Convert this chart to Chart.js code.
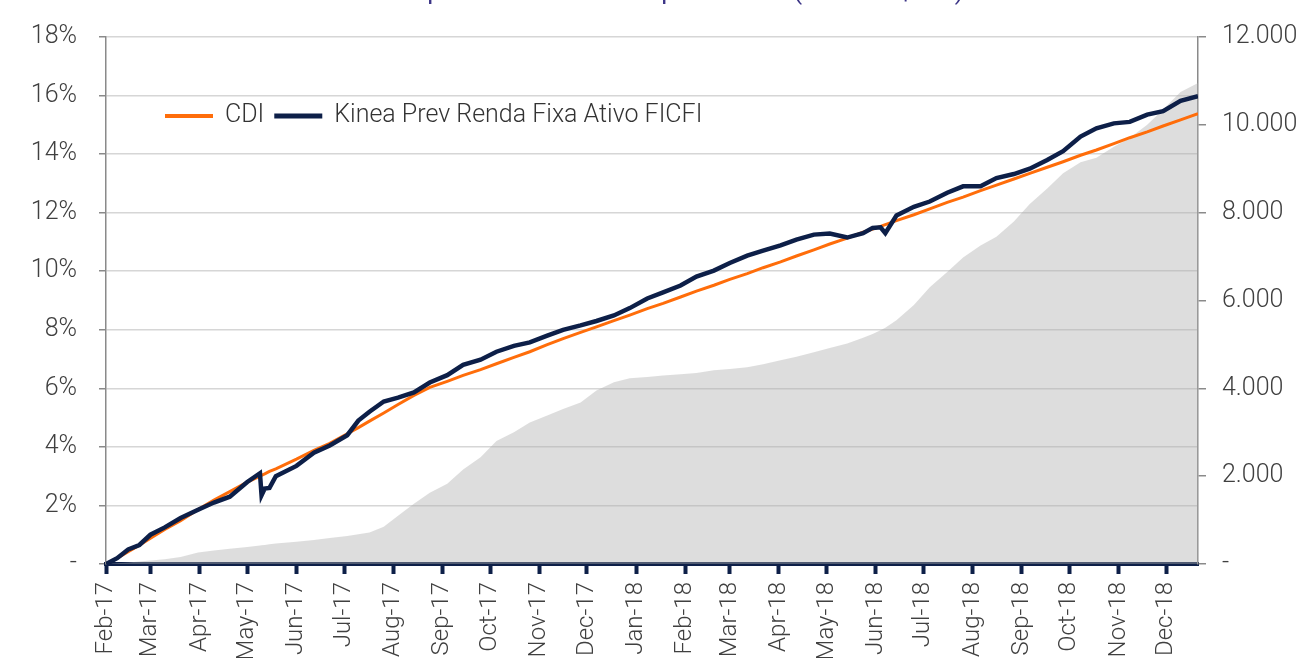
<!DOCTYPE html>
<html lang="pt-BR">
<head>
<meta charset="UTF-8">
<title>Kinea Prev Renda Fixa Ativo FICFI x CDI</title>
<script src="https://cdn.jsdelivr.net/npm/chart.js"></script>
<style>
    html, body { margin: 0; padding: 0; background: #fff; overflow: hidden; }
    canvas { display: block; }
</style>
</head>
<body>
<canvas id="grafico" width="1300" height="658"></canvas>
<script>
// datas das observações
const datas = [
    '2017-02-01','2017-02-08','2017-02-15','2017-02-22','2017-03-01','2017-03-10','2017-03-20','2017-03-31',
    '2017-04-10','2017-04-20','2017-05-01','2017-05-09','2017-05-10','2017-05-12','2017-05-15','2017-05-19',
    '2017-06-01','2017-06-12','2017-06-22','2017-07-03','2017-07-10','2017-07-17','2017-07-26','2017-08-04',
    '2017-08-14','2017-08-24','2017-09-04','2017-09-14','2017-09-25','2017-10-05','2017-10-16','2017-10-26',
    '2017-11-06','2017-11-16','2017-11-27','2017-12-07','2017-12-18','2017-12-28','2018-01-08','2018-01-18',
    '2018-01-29','2018-02-08','2018-02-19','2018-03-01','2018-03-12','2018-03-22','2018-04-02','2018-04-12',
    '2018-04-23','2018-05-03','2018-05-14','2018-05-24','2018-05-30','2018-06-04','2018-06-07','2018-06-14',
    '2018-06-25','2018-07-05','2018-07-16','2018-07-26','2018-08-06','2018-08-16','2018-08-27','2018-09-06',
    '2018-09-17','2018-09-27','2018-10-08','2018-10-18','2018-10-29','2018-11-08','2018-11-19','2018-11-29',
    '2018-12-10','2018-12-21'
];

// rentabilidade acumulada (%)
const cdi = [
    0, 0.2, 0.42, 0.64, 0.88, 1.18, 1.48, 1.86,
    2.18, 2.47, 2.8, 3.0, 3.03, 3.08, 3.16, 3.25,
    3.58, 3.88, 4.12, 4.45, 4.66, 4.88, 5.16, 5.45,
    5.76, 6.03, 6.24, 6.44, 6.64, 6.84, 7.06, 7.25,
    7.49, 7.7, 7.91, 8.1, 8.31, 8.5, 8.72, 8.9,
    9.12, 9.32, 9.52, 9.72, 9.92, 10.12, 10.32, 10.52,
    10.73, 10.93, 11.13, 11.33, 11.44, 11.53, 11.59, 11.73,
    11.93, 12.13, 12.35, 12.53, 12.75, 12.94, 13.15, 13.34,
    13.55, 13.74, 13.96, 14.14, 14.36, 14.56, 14.76, 14.96,
    15.17, 15.38
];

const kinea = [
    0, 0.2, 0.5, 0.65, 1.0, 1.25, 1.57, 1.85,
    2.1, 2.3, 2.8, 3.1, 2.35, 2.58, 2.6, 3.0,
    3.35, 3.8, 4.05, 4.4, 4.9, 5.2, 5.55, 5.68,
    5.86, 6.2, 6.45, 6.8, 6.98, 7.25, 7.45, 7.57,
    7.8, 8.0, 8.15, 8.3, 8.49, 8.74, 9.07, 9.28,
    9.51, 9.82, 10.02, 10.28, 10.53, 10.7, 10.88, 11.08,
    11.25, 11.29, 11.15, 11.3, 11.48, 11.5, 11.3, 11.9,
    12.2, 12.38, 12.68, 12.9, 12.9, 13.18, 13.32, 13.5,
    13.8, 14.1, 14.6, 14.88, 15.05, 15.1, 15.35, 15.47,
    15.82, 15.98
];

// patrimônio (eixo direito)
const patrimonio = [
    0, 15, 35, 55, 80, 110, 160, 260,
    310, 345, 385, 420, 425, 435, 450, 465,
    505, 545, 590, 640, 675, 720, 850, 1100,
    1370, 1620, 1830, 2150, 2430, 2800, 3000, 3220,
    3380, 3530, 3680, 3950, 4140, 4230, 4260, 4290,
    4320, 4350, 4410, 4440, 4480, 4550, 4640, 4720,
    4820, 4920, 5020, 5150, 5240, 5320, 5380, 5550,
    5900, 6300, 6650, 6980, 7250, 7450, 7800, 8200,
    8550, 8900, 9150, 9250, 9500, 9700, 10000, 10350,
    10750, 10950
];

const mesesDatas = [
    '2017-02-01','2017-03-01','2017-04-01','2017-05-01','2017-06-01','2017-07-01','2017-08-01','2017-09-01',
    '2017-10-01','2017-11-01','2017-12-01','2018-01-01','2018-02-01','2018-03-01','2018-04-01','2018-05-01',
    '2018-06-01','2018-07-01','2018-08-01','2018-09-01','2018-10-01','2018-11-01','2018-12-01'
];
const mesesLabels = [
    'Feb-17','Mar-17','Apr-17','May-17','Jun-17','Jul-17','Aug-17','Sep-17','Oct-17','Nov-17','Dec-17',
    'Jan-18','Feb-18','Mar-18','Apr-18','May-18','Jun-18','Jul-18','Aug-18','Sep-18','Oct-18','Nov-18','Dec-18'
];

const base = Date.UTC(2017, 1, 1);
function dia(s) {
    const p = s.split('-').map(Number);
    return (Date.UTC(p[0], p[1] - 1, p[2]) - base) / 864e5;
}
function pontos(valores) {
    return datas.map((d, i) => ({ x: dia(d), y: valores[i] }));
}
function milhar(v) {
    return String(v).replace(/\B(?=(\d{3})+(?!\d))/g, '.');
}

const fonte = "Roboto, 'Liberation Sans', sans-serif";
const corTexto = '#404040';
const laranja = '#ff6d0a';
const azul = '#0d1f48';

const legenda = {
    id: 'legenda',
    afterDraw(chart) {
        const ctx = chart.ctx;
        const itens = [['CDI', laranja, 4], ['Kinea Prev Renda Fixa Ativo FICFI', azul, 5]];
        let x = 165;
        const y = 116;
        ctx.save();
        ctx.font = '300 25px ' + fonte;
        ctx.textBaseline = 'middle';
        itens.forEach(it => {
            ctx.fillStyle = it[1];
            ctx.fillRect(x, y - it[2] / 2, 48, it[2]);
            x += 60;
            ctx.fillStyle = '#333';
            ctx.fillText(it[0], x, y);
            x += ctx.measureText(it[0]).width + 10;
        });
        ctx.restore();
    }
};

// título cortado no topo da imagem, só os descendentes aparecem
const titulo = {
    id: 'titulo',
    afterDraw(chart) {
        const ctx = chart.ctx;
        ctx.save();
        ctx.font = '26px ' + fonte;
        ctx.fillStyle = '#3b3486';
        ctx.textAlign = 'center';
        ctx.textBaseline = 'alphabetic';
        ctx.fillText('Desempenho acumulado e patrimônio (PL em R$ mil)', 655, -1);
        ctx.restore();
    }
};

new Chart(document.getElementById('grafico'), {
    type: 'line',
    data: {
        datasets: [
            {
                label: 'Kinea Prev Renda Fixa Ativo FICFI',
                data: pontos(kinea),
                yAxisID: 'y',
                borderColor: azul,
                borderWidth: 4.5,
                pointRadius: 0,
                fill: false,
                order: 1
            },
            {
                label: 'CDI',
                data: pontos(cdi),
                yAxisID: 'y',
                borderColor: laranja,
                borderWidth: 3,
                pointRadius: 0,
                fill: false,
                order: 2
            },
            {
                label: 'Patrimônio',
                data: pontos(patrimonio),
                yAxisID: 'y1',
                borderWidth: 0,
                borderColor: 'rgba(0,0,0,0)',
                backgroundColor: 'rgba(175,175,175,0.42)',
                pointRadius: 0,
                fill: 'origin',
                order: 3
            }
        ]
    },
    options: {
        responsive: false,
        animation: false,
        layout: { padding: { top: 24 } },
        plugins: {
            legend: { display: false },
            tooltip: { enabled: false }
        },
        scales: {
            x: {
                type: 'linear',
                min: 0,
                max: dia(datas[datas.length - 1]),
                afterBuildTicks(scale) {
                    scale.ticks = mesesDatas.map(d => ({ value: dia(d) }));
                },
                afterFit(scale) { scale.height = 94; },
                ticks: {
                    autoSkip: false,
                    minRotation: 90,
                    maxRotation: 90,
                    padding: 8,
                    color: corTexto,
                    font: { family: fonte, size: 24, weight: '300' },
                    callback: function (v) {
                        const i = mesesDatas.findIndex(d => dia(d) === v);
                        return i >= 0 ? mesesLabels[i] : '';
                    }
                },
                grid: {
                    drawOnChartArea: false,
                    drawTicks: true,
                    tickLength: 10,
                    tickWidth: 4,
                    tickColor: azul
                },
                border: { color: azul, width: 4 }
            },
            y: {
                position: 'left',
                min: 0,
                max: 18,
                afterFit(scale) { scale.width = 106; },
                ticks: {
                    stepSize: 2,
                    padding: 22,
                    color: corTexto,
                    font: { family: fonte, size: 25, weight: '300' },
                    callback: v => v === 0 ? '-' : v + '%'
                },
                grid: {
                    color: '#d6d6d6',
                    lineWidth: 1.5,
                    tickLength: 7,
                    tickColor: '#8a8a8a'
                },
                border: { color: '#8a8a8a', width: 1.5 }
            },
            y1: {
                position: 'right',
                min: 0,
                max: 12000,
                afterFit(scale) { scale.width = 102; },
                ticks: {
                    stepSize: 2000,
                    padding: 16,
                    color: corTexto,
                    font: { family: fonte, size: 25, weight: '300' },
                    callback: v => v === 0 ? '-' : milhar(v)
                },
                grid: {
                    drawOnChartArea: false,
                    tickLength: 8,
                    tickColor: '#8a8a8a',
                    lineWidth: 1.5
                },
                border: { color: '#8a8a8a', width: 1.5 }
            }
        }
    },
    plugins: [legenda, titulo]
});
</script>
</body>
</html>
